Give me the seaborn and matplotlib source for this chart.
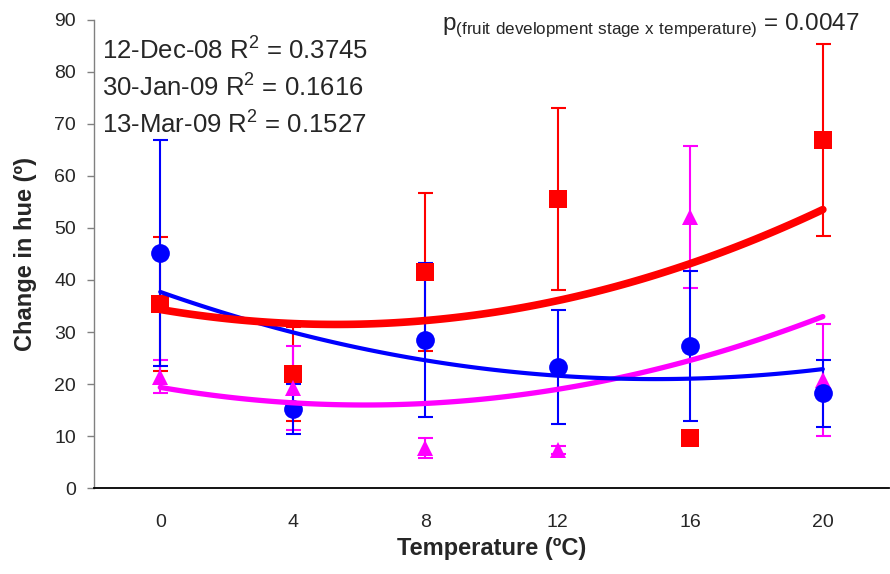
import numpy as np
import pandas as pd
import seaborn as sns
import matplotlib.pyplot as plt

sns.set_theme(style="white")
plt.rcParams['font.family'] = ['Liberation Sans', 'DejaVu Sans']
plt.rcParams['mathtext.fontset'] = 'custom'
plt.rcParams['mathtext.rm'] = 'Liberation Sans'

# Temperatures (ºC)
temps = [0, 4, 8, 12, 16, 20]

# mean change in hue and standard deviation for each harvest date
dec_mean = [45.2, 15.2, 28.5, 23.3, 27.3, 18.2]
dec_sd = [21.7, 4.8, 14.8, 11.0, 14.5, 6.4]
jan_mean = [35.4, 21.9, 41.6, 55.5, 9.6, 66.9]
jan_sd = [12.9, 9.0, 15.2, 17.5, 1.0, 18.4]
mar_mean = [21.4, 19.2, 7.7, 7.3, 52.1, 20.8]
mar_sd = [3.2, 8.1, 2.0, 0.8, 13.6, 10.8]

dates = ['30-Jan-09', '13-Mar-09', '12-Dec-08']
colors = {'12-Dec-08': '#0000FF', '30-Jan-09': '#FF0000', '13-Mar-09': '#FF00FF'}
markers = {'12-Dec-08': 'o', '30-Jan-09': 's', '13-Mar-09': '^'}
sizes = {'12-Dec-08': 13.5, '30-Jan-09': 12.5, '13-Mar-09': 12}
fit_lw = {'12-Dec-08': 3.0, '30-Jan-09': 5.5, '13-Mar-09': 3.8}

df = pd.concat([
    pd.DataFrame({'Temp': temps, 'Hue': dec_mean, 'SD': dec_sd, 'Date': '12-Dec-08'}),
    pd.DataFrame({'Temp': temps, 'Hue': jan_mean, 'SD': jan_sd, 'Date': '30-Jan-09'}),
    pd.DataFrame({'Temp': temps, 'Hue': mar_mean, 'SD': mar_sd, 'Date': '13-Mar-09'}),
], ignore_index=True)

fig = plt.figure(figsize=(8.9, 5.74), dpi=100)
ax = fig.add_axes([0.1056, 0.1498, 0.8934, 0.8154])

for d in dates:
    sub = df[df['Date'] == d]
    ax.errorbar(sub['Temp'], sub['Hue'], yerr=sub['SD'], fmt='none',
                ecolor=colors[d], elinewidth=1.5, capsize=5.4, capthick=1.5, zorder=2)
    sns.lineplot(data=sub, x='Temp', y='Hue', color=colors[d], marker=markers[d],
                 markersize=sizes[d], markeredgewidth=0, linestyle='none', ax=ax, zorder=3)

# quadratic trend lines (fitted to the means)
for d in ['13-Mar-09', '12-Dec-08', '30-Jan-09']:
    sub = df[df['Date'] == d]
    sns.regplot(data=sub, x='Temp', y='Hue', order=2, ci=None, scatter=False, truncate=True,
                ax=ax, line_kws={'color': colors[d], 'lw': fit_lw[d],
                                 'solid_capstyle': 'round', 'zorder': 4})

ax.set_xlim(-2, 22)
ax.set_ylim(0, 90)
ax.set_xticks(temps)
ax.set_yticks(range(0, 91, 10))
ax.tick_params(axis='x', length=0, pad=19, labelsize=14)
ax.tick_params(axis='y', left=True, length=5, width=1, color='#808080', pad=8, labelsize=14)
for s in ['top', 'right']:
    ax.spines[s].set_visible(False)
ax.spines['left'].set_color('#808080')
ax.spines['left'].set_linewidth(1)
ax.spines['bottom'].set_color('black')
ax.spines['bottom'].set_linewidth(1.3)

ax.set_xlabel('Temperature (ºC)', fontsize=17, fontweight='bold', labelpad=4)
ax.set_ylabel('Change in hue (º)', fontsize=17, fontweight='bold', labelpad=12)

r2_labels = ['12-Dec-08 R$^{\\mathregular{2}}$ = 0.3745',
             '30-Jan-09 R$^{\\mathregular{2}}$ = 0.1616',
             '13-Mar-09 R$^{\\mathregular{2}}$ = 0.1527']
for i, t in enumerate(r2_labels):
    fig.text(102 / 890, 1 - (50 + 37 * i) / 574, t, fontsize=18.5, va='center', ha='left')

fig.text(442 / 890, 1 - 25 / 574,
         'p$_{\\mathregular{(fruit\\ development\\ stage\\ x\\ temperature)}}$ = 0.0047',
         fontsize=17.5, va='center', ha='left')

fig.savefig('out.png', dpi=100)
